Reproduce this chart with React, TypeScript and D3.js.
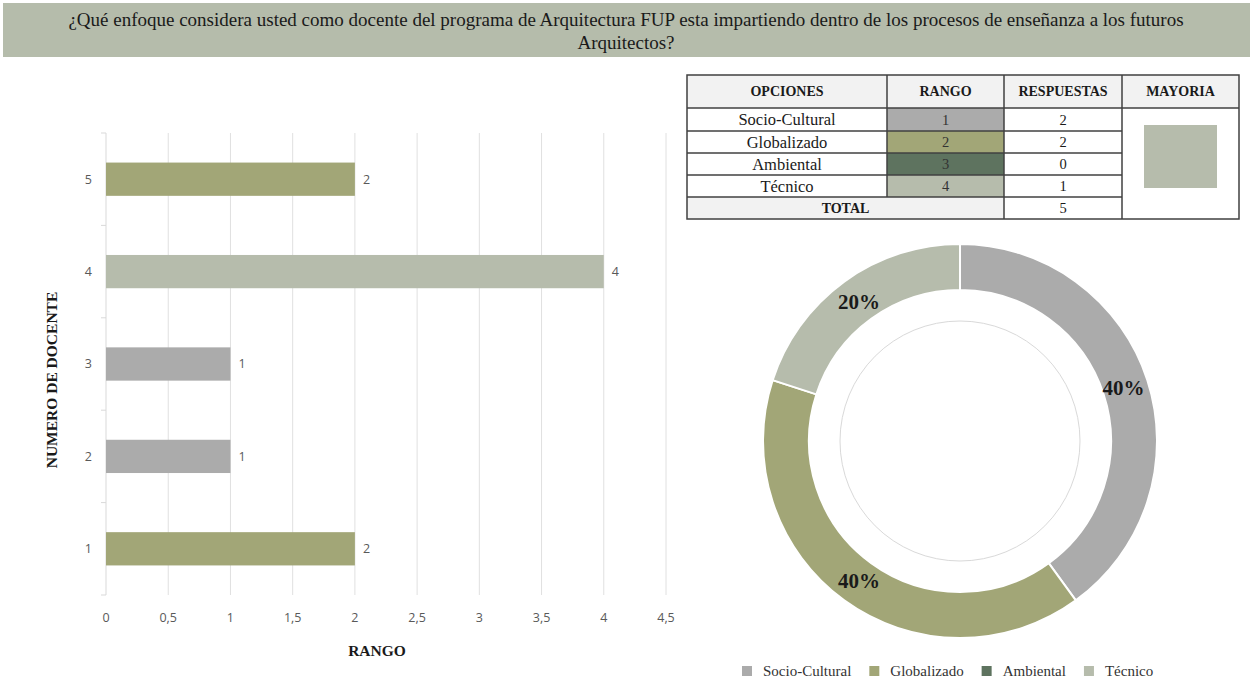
import React from "react";
import * as d3 from "d3";

// ---------- data ----------
const titleLines = [
  "¿Qué enfoque considera usted como docente del programa de Arquitectura FUP esta impartiendo dentro de los procesos de enseñanza a los futuros",
  "Arquitectos?",
];
const docentes = ["1", "2", "3", "4", "5"];
const rangoPorDocente = [2, 1, 1, 4, 2];
const xTickValues = [0, 0.5, 1, 1.5, 2, 2.5, 3, 3.5, 4, 4.5];

const opciones = ["Socio-Cultural", "Globalizado", "Ambiental", "Técnico"];
const rangos = [1, 2, 3, 4];
const respuestas = [2, 2, 0, 1];
const total = 5;
const colores = ["#ababab", "#a2a677", "#5e735f", "#b6bcac"];
const tableHeaders = ["OPCIONES", "RANGO", "RESPUESTAS", "MAYORIA"];
const mayoriaColor = "#b6bcac";

const serif = "'Liberation Serif', 'Times New Roman', serif";
const sans = "'Open Sans', 'Liberation Sans', sans-serif";

function measure(text: string, font: string): number {
  const c = document.createElement("canvas").getContext("2d");
  if (!c) return text.length * 7;
  c.font = font;
  return c.measureText(text).width;
}

export default function App() {
  const W = 1252;
  const H = 681;

  // ---------- bar chart ----------
  const x = d3.scaleLinear().domain([0, 4.5]).range([106, 666]);
  const y = d3
    .scaleBand<string>()
    .domain([...docentes].reverse())
    .range([133, 595])
    .paddingInner(0.64)
    .paddingOuter(0.32);
  const yTop = 133;
  const yBot = 595;
  const colorForRango = (r: number) => colores[rangos.indexOf(r)];
  const fmt = (v: number) => String(v).replace(".", ",");
  const bandEdges = d3.range(docentes.length + 1).map((i) => yTop + (i * (yBot - yTop)) / docentes.length);

  // ---------- table ----------
  const colX = [687, 887, 1004, 1122, 1239];
  const rowY = [75, 108, 131, 153, 175, 197, 219];

  // ---------- donut ----------
  const cx = 960;
  const cy = 441;
  const pie = d3
    .pie<number>()
    .sort(null)
    .value((d) => d);
  const arcs = pie(respuestas);
  const arc = d3.arc<d3.PieArcDatum<number>>().innerRadius(151).outerRadius(197);
  const labelArc = d3.arc<d3.PieArcDatum<number>>().innerRadius(172).outerRadius(172);

  // ---------- legend layout ----------
  const legendFontSize = 15;
  const legendFont = `${legendFontSize}px 'Liberation Serif'`;
  const legendPos: number[] = [];
  let lx0 = 742;
  opciones.forEach((o) => {
    legendPos.push(lx0);
    lx0 += 21 + measure(o, legendFont) + 18;
  });

  return (
    <svg
      width={W}
      height={H}
      style={{ position: "absolute", left: 0, top: 0, background: "#fff" }}
    >
      {/* title banner */}
      <rect x={3} y={3} width={1247} height={54} fill="#b5bcab" />
      {titleLines.map((t, i) => (
        <text
          key={i}
          x={626}
          y={26 + i * 23}
          textAnchor="middle"
          fontFamily={serif}
          fontSize={19}
          fill="#1a1a1a"
        >
          {t}
        </text>
      ))}

      {/* gridlines */}
      {xTickValues.map((v) =>
        v === 0 ? null : (
          <line key={v} x1={x(v)} x2={x(v)} y1={yTop} y2={yBot} stroke="#e0e0e0" strokeWidth={1} />
        )
      )}
      {/* y axis line & ticks */}
      <line x1={x(0)} x2={x(0)} y1={yTop} y2={yBot} stroke="#d9d9d9" strokeWidth={1} />
      {bandEdges.map((e, i) => (
        <line key={i} x1={x(0) - 5} x2={x(0)} y1={e} y2={e} stroke="#d9d9d9" strokeWidth={1} />
      ))}
      {/* bars */}
      {docentes.map((d, i) => (
        <g key={d}>
          <rect
            x={x(0)}
            y={y(d)}
            width={x(rangoPorDocente[i]) - x(0)}
            height={y.bandwidth()}
            fill={colorForRango(rangoPorDocente[i])}
          />
          <text
            x={x(rangoPorDocente[i]) + 8}
            y={(y(d) as number) + y.bandwidth() / 2}
            dy="0.35em"
            fontFamily={sans}
            fontSize={12.5}
            fill="#595959"
          >
            {rangoPorDocente[i]}
          </text>
          <text
            x={92}
            y={(y(d) as number) + y.bandwidth() / 2}
            dy="0.35em"
            textAnchor="end"
            fontFamily={sans}
            fontSize={12.5}
            fill="#595959"
          >
            {d}
          </text>
        </g>
      ))}
      {/* x tick labels */}
      {xTickValues.map((v) => (
        <text
          key={v}
          x={x(v)}
          y={618}
          dy="0.35em"
          textAnchor="middle"
          fontFamily={sans}
          fontSize={12.5}
          fill="#595959"
        >
          {fmt(v)}
        </text>
      ))}
      <text
        x={377}
        y={656}
        textAnchor="middle"
        fontFamily={serif}
        fontWeight="bold"
        fontSize={15.5}
        fill="#1a1a1a"
      >
        RANGO
      </text>
      <text
        transform={`translate(57,380) rotate(-90)`}
        textAnchor="middle"
        fontFamily={serif}
        fontWeight="bold"
        fontSize={15.5}
        fill="#1a1a1a"
      >
        NUMERO DE DOCENTE
      </text>

      {/* table */}
      <g>
        <rect x={colX[0]} y={rowY[0]} width={colX[4] - colX[0]} height={rowY[1] - rowY[0]} fill="#f2f2f2" />
        <rect x={colX[0]} y={rowY[5]} width={colX[2] - colX[0]} height={rowY[6] - rowY[5]} fill="#f2f2f2" />
        {opciones.map((o, i) => (
          <rect
            key={o}
            x={colX[1]}
            y={rowY[i + 1]}
            width={colX[2] - colX[1]}
            height={rowY[i + 2] - rowY[i + 1]}
            fill={colores[i]}
          />
        ))}
        <rect x={1144} y={125} width={73} height={63} fill={mayoriaColor} />
        {tableHeaders.map((h, i) => (
          <text
            key={h}
            x={(colX[i] + colX[i + 1]) / 2}
            y={(rowY[0] + rowY[1]) / 2}
            dy="0.35em"
            textAnchor="middle"
            fontFamily={serif}
            fontWeight="bold"
            fontSize={14}
            fill="#1a1a1a"
          >
            {h}
          </text>
        ))}
        {opciones.map((o, i) => {
          const cyRow = (rowY[i + 1] + rowY[i + 2]) / 2;
          return (
            <g key={o}>
              <text x={(colX[0] + colX[1]) / 2} y={cyRow} dy="0.35em" textAnchor="middle" fontFamily={serif} fontSize={16.5} fill="#1a1a1a">
                {o}
              </text>
              <text x={(colX[1] + colX[2]) / 2} y={cyRow} dy="0.35em" textAnchor="middle" fontFamily={serif} fontSize={14.5} fill="#333">
                {rangos[i]}
              </text>
              <text x={(colX[2] + colX[3]) / 2} y={cyRow} dy="0.35em" textAnchor="middle" fontFamily={serif} fontSize={14.5} fill="#1a1a1a">
                {respuestas[i]}
              </text>
            </g>
          );
        })}
        <text x={(colX[0] + colX[2]) / 2} y={(rowY[5] + rowY[6]) / 2} dy="0.35em" textAnchor="middle" fontFamily={serif} fontWeight="bold" fontSize={14} fill="#1a1a1a">
          TOTAL
        </text>
        <text x={(colX[2] + colX[3]) / 2} y={(rowY[5] + rowY[6]) / 2} dy="0.35em" textAnchor="middle" fontFamily={serif} fontSize={14.5} fill="#1a1a1a">
          {total}
        </text>
        <g stroke="#404040" strokeWidth={1.5} fill="none">
          <rect x={colX[0]} y={rowY[0]} width={colX[4] - colX[0]} height={rowY[6] - rowY[0]} />
          {rowY.slice(1, 6).map((ry, i) => (
            <line key={i} x1={colX[0]} x2={i === 0 ? colX[4] : colX[3]} y1={ry} y2={ry} />
          ))}
          <line x1={colX[1]} x2={colX[1]} y1={rowY[0]} y2={rowY[5]} />
          <line x1={colX[2]} x2={colX[2]} y1={rowY[0]} y2={rowY[6]} />
          <line x1={colX[3]} x2={colX[3]} y1={rowY[0]} y2={rowY[6]} />
        </g>
      </g>

      {/* donut */}
      <g transform={`translate(${cx},${cy})`}>
        {arcs.map((a, i) =>
          a.value > 0 ? (
            <path key={i} d={arc(a) as string} fill={colores[i]} stroke="#fff" strokeWidth={2} />
          ) : null
        )}
        <circle r={120} fill="none" stroke="#d9d9d9" strokeWidth={1} />
        {arcs.map((a, i) => {
          if (a.value <= 0) return null;
          const [lx, ly] = labelArc.centroid(a);
          return (
            <text
              key={i}
              x={lx}
              y={ly}
              dy="0.35em"
              textAnchor="middle"
              fontFamily={serif}
              fontWeight="bold"
              fontSize={21}
              fill="#1a1a1a"
            >
              {`${Math.round((a.value / total) * 100)}%`}
            </text>
          );
        })}
      </g>

      {/* legend */}
      {opciones.map((o, i) => (
        <g key={o} transform={`translate(${legendPos[i]},666)`}>
          <rect x={0} y={0} width={10} height={10} fill={colores[i]} />
          <text x={21} y={5} dy="0.35em" fontFamily={serif} fontSize={legendFontSize} fill="#333">
            {o}
          </text>
        </g>
      ))}
    </svg>
  );
}
